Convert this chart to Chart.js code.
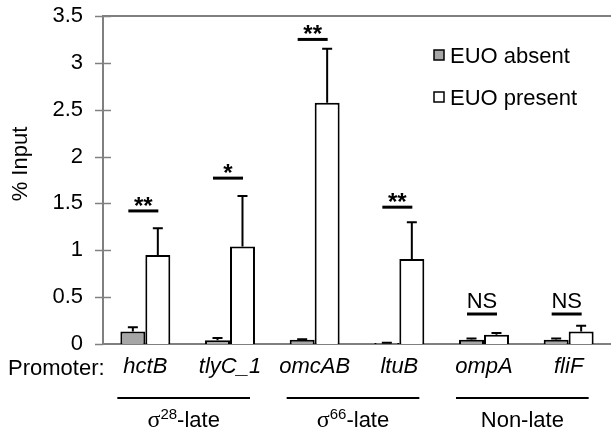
<!DOCTYPE html>
<html><head><meta charset="utf-8">
<script src="https://cdn.jsdelivr.net/npm/chart.js@4.4.0/dist/chart.umd.min.js"></script>
<style>html,body{margin:0;padding:0;background:#fff}#wrap{width:611px;height:436px;position:relative}</style>
</head><body><div id="wrap"><canvas id="c" width="611" height="436"></canvas></div>
<script>
const categories = ['hctB','tlyC_1','omcAB','ltuB','ompA','fliF'];
const seriesNames = ['EUO absent','EUO present'];
const absentValues = [0.134,0.04,0.046,0.01,0.046,0.046];
const absentErrors = [0.046,0.024,0.006,0.003,0.014,0.014];
const presentValues = [0.95,1.04,2.574,0.907,0.099,0.134];
const presentErrors = [0.284,0.54,0.576,0.391,0.018,0.061];
const sigLabels = ['**','*','**','**','NS','NS'];
const sigLevels = [1.42,1.77,3.25,1.46,0.32,0.32];
const groupLabels = [['σ','28','-late'],['σ','66','-late'],['','','Non-late']];
const groupRanges = [[0,1],[2,3],[4,5]];
const yTickValues = [0,0.5,1,1.5,2,2.5,3,3.5];
const promoterLabel = 'Promoter:';
const yTitle = '% Input';

const FONT = '"Liberation Sans", Arial, sans-serif';
const AXIS_GRAY = '#808080';

const extras = {
  id: 'extras',
  afterDraw(chart) {
    const ctx = chart.ctx;
    const area = chart.chartArea;
    const x = chart.scales.x, y = chart.scales.y;
    ctx.save();
    // top frame line
    ctx.strokeStyle = AXIS_GRAY; ctx.lineWidth = 2;
    ctx.beginPath(); ctx.moveTo(area.left, area.top); ctx.lineTo(area.right, area.top); ctx.stroke();
    // y ticks crossing axis
    ctx.lineWidth = 1.5;
    yTickValues.forEach(v => {
      const py = Math.round(y.getPixelForValue(v)) + 0.5;
      ctx.beginPath(); ctx.moveTo(area.left - 8, py); ctx.lineTo(area.left + (v === 0 ? 0 : 8), py); ctx.stroke();
    });
    // error bars
    ctx.strokeStyle = '#000'; ctx.lineWidth = 2;
    [[absentValues, absentErrors],[presentValues, presentErrors]].forEach((pair, di) => {
      const meta = chart.getDatasetMeta(di);
      pair[0].forEach((v, i) => {
        const bx = meta.data[i].x;
        const y0 = y.getPixelForValue(v), y1 = y.getPixelForValue(v + pair[1][i]);
        ctx.beginPath(); ctx.moveTo(bx, y0); ctx.lineTo(bx, y1);
        ctx.moveTo(bx - 5, y1); ctx.lineTo(bx + 5, y1); ctx.stroke();
      });
    });
    // significance
    ctx.fillStyle = '#000'; ctx.textAlign = 'center'; ctx.textBaseline = 'alphabetic';
    sigLabels.forEach((s, i) => {
      const cx = x.getPixelForValue(i) - 2;
      const py = y.getPixelForValue(sigLevels[i]);
      ctx.lineWidth = 3;
      ctx.beginPath(); ctx.moveTo(cx - 15, py); ctx.lineTo(cx + 15, py); ctx.stroke();
      if (s === 'NS') { ctx.font = '22px ' + FONT; ctx.fillText(s, cx, py - 6); }
      else { ctx.font = 'bold 24px ' + FONT; ctx.fillText(s, cx, py + 3); }
    });
    // legend
    ctx.textAlign = 'left'; ctx.textBaseline = 'alphabetic'; ctx.font = '22px ' + FONT;
    const legY = [55, 97];
    chart.data.datasets.forEach((ds, i) => {
      ctx.fillStyle = ds.backgroundColor; ctx.strokeStyle = '#000'; ctx.lineWidth = 1.5;
      ctx.fillRect(434, legY[i] - 5, 10, 10); ctx.strokeRect(434, legY[i] - 5, 10, 10);
      ctx.fillStyle = '#000';
      ctx.fillText(ds.label, 450, legY[i] + 8);
    });
    // Promoter label
    ctx.textAlign = 'left';
    ctx.fillText(promoterLabel, 8, 375);
    // y title
    ctx.save(); ctx.translate(27, 164); ctx.rotate(-Math.PI/2);
    ctx.textAlign = 'center'; ctx.fillText(yTitle, 0, 0); ctx.restore();
    // group lines and labels
    groupRanges.forEach((r, gi) => {
      const l = x.getPixelForValue(r[0]) - 28, rr = x.getPixelForValue(r[1]) + 20;
      ctx.strokeStyle = '#000'; ctx.lineWidth = 2;
      ctx.beginPath(); ctx.moveTo(l, 398); ctx.lineTo(rr, 398); ctx.stroke();
      const [g, sup, rest] = groupLabels[gi];
      const fG = '24px "Liberation Serif", serif', fS = '15px ' + FONT, fR = '22px ' + FONT;
      ctx.font = fG; const wg = ctx.measureText(g).width;
      ctx.font = fS; const ws = ctx.measureText(sup).width;
      ctx.font = fR; const wr = ctx.measureText(rest).width;
      let sx = (l + rr) / 2 - (wg + ws + wr) / 2;
      ctx.textAlign = 'left'; ctx.fillStyle = '#000';
      ctx.font = fG; ctx.fillText(g, sx, 427); sx += wg;
      ctx.font = fS; ctx.fillText(sup, sx, 419); sx += ws;
      ctx.font = fR; ctx.fillText(rest, sx, 427);
    });
    ctx.restore();
  }
};

new Chart(document.getElementById('c'), {
  type: 'bar',
  data: {
    labels: categories,
    datasets: [
      { label: seriesNames[0], data: absentValues, backgroundColor: '#a6a6a6', borderColor: '#000', borderWidth: 2 },
      { label: seriesNames[1], data: presentValues, backgroundColor: '#ffffff', borderColor: '#000', borderWidth: 2 }
    ]
  },
  options: {
    responsive: false, animation: false,
    layout: { padding: { top: 16, right: 0, left: 0, bottom: 0 } },
    datasets: { bar: { categoryPercentage: 0.59, barPercentage: 1.0 } },
    plugins: { legend: { display: false }, tooltip: { enabled: false } },
    scales: {
      x: {
        grid: { display: false },
        border: { display: true, color: AXIS_GRAY, width: 2 },
        ticks: { color: '#000', padding: 2, font: { family: FONT, size: 22, style: 'italic' }, maxRotation: 0, autoSkip: false },
        afterFit(s) { s.height = 92; s.paddingLeft = 0; s.paddingRight = 0; }
      },
      y: {
        min: 0, max: 3.5,
        grid: { display: false },
        border: { display: true, color: AXIS_GRAY, width: 2 },
        ticks: { stepSize: 0.5, color: '#000', padding: 12, font: { family: FONT, size: 22 }, callback: v => String(v) },
        afterBuildTicks(s) { s.ticks = yTickValues.map(v => ({ value: v })); },
        afterFit(s) { s.width = 103; s.paddingTop = 0; s.paddingBottom = 0; }
      }
    }
  },
  plugins: [extras]
});
</script>
</body></html>
